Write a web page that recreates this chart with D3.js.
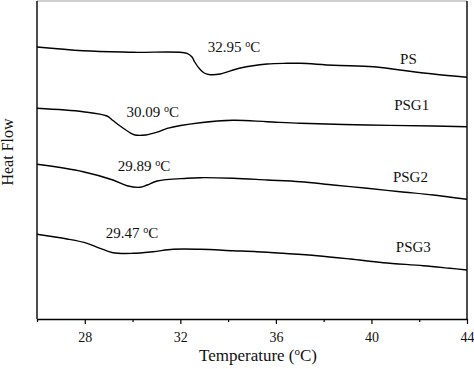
<!DOCTYPE html>
<html>
<head>
<meta charset="utf-8">
<script src="https://cdn.jsdelivr.net/npm/d3@7"></script>
<style>
  body { margin: 0; background: #fff; }
  text { font-family: "Liberation Serif", "Times New Roman", serif; fill: #111; }
</style>
</head>
<body>
<div id="container"></div>
<script>
/* CONSTANTS AND GLOBALS */
const width = 474;
const height = 369;
const margin = { top: 1, right: 7, bottom: 50, left: 37 };

/* DATA (heat flow in arbitrary units) */
const seriesNames = ["PS", "PSG1", "PSG2", "PSG3"];
const tgLabels = ["32.95", "30.09", "29.89", "29.47"];
const majorTicks = [28, 32, 36, 40, 44];
const minorTicks = [26, 30, 34, 38, 42];

const psTemp = [26, 27.93, 30.02, 32.28, 32.49, 32.6, 32.83, 33.0, 33.25, 33.67, 34.51, 35.63, 36.47, 37.02, 38.4, 40.07, 41.2, 42.59, 44];
const psFlow = [27.2, 26.83, 26.67, 26.57, 26.2, 25.7, 24.95, 24.6, 24.43, 24.5, 25.1, 25.5, 25.57, 25.57, 25.37, 25.23, 24.9, 24.5, 24.17];

const psg1Temp = [26, 27.93, 28.93, 29.18, 29.48, 29.9, 30.1, 30.55, 31.03, 31.45, 32.83, 34.21, 35.63, 37.02, 39.82, 42.59, 44];
const psg1Flow = [21.07, 20.73, 20.3, 19.85, 19.3, 18.62, 18.4, 18.4, 18.68, 19.07, 19.63, 19.87, 19.73, 19.57, 19.4, 19.3, 19.23];

const psg2Temp = [26, 27.93, 29.18, 29.77, 30.31, 30.61, 31.03, 32.28, 32.83, 34.21, 35.63, 37.02, 38.4, 39.82, 41.2, 42.59, 44];
const psg2Flow = [15.47, 14.73, 13.9, 13.33, 13.17, 13.4, 13.8, 14.07, 14.13, 14.07, 13.9, 13.73, 13.4, 13.07, 12.73, 12.4, 11.97];

const psg3Temp = [26, 27.26, 28.1, 28.64, 29.18, 30.02, 30.86, 31.7, 32.83, 34.21, 35.21, 36.3, 37.73, 39.11, 40.49, 42.17, 43.29, 44];
const psg3Flow = [8.47, 8.0, 7.57, 7.07, 6.63, 6.57, 6.73, 6.97, 6.97, 6.83, 6.73, 6.57, 6.33, 6.0, 5.63, 5.33, 5.07, 4.9];

const curves = [
  { temp: psTemp, flow: psFlow },
  { temp: psg1Temp, flow: psg1Flow },
  { temp: psg2Temp, flow: psg2Flow },
  { temp: psg3Temp, flow: psg3Flow }
];

// label anchors in data units: [temp, flow]
const namePos = [[41.2, 25.55], [40.95, 20.9], [40.9, 13.7], [41.02, 6.7]];
const tgPos = [[33.15, 26.7], [29.75, 20.2], [29.38, 14.8], [28.88, 8.1]];

/* SCALES */
const xScale = d3.scaleLinear()
  .domain([26, 44])
  .range([margin.left, width - margin.right]);

const yScale = d3.scaleLinear()
  .domain([0, 31.8])
  .range([height - margin.bottom, margin.top]);

/* HTML ELEMENTS */
const svg = d3.select("#container")
  .append("svg")
  .attr("width", width)
  .attr("height", height);

const x0 = margin.left, x1 = width - margin.right;
const y0 = margin.top, y1 = height - margin.bottom;

// frame
svg.append("line").attr("x1", x0).attr("x2", x1).attr("y1", y0).attr("y2", y0)
  .attr("stroke", "#cfcfcf").attr("stroke-width", 2);
svg.append("line").attr("x1", x1).attr("x2", x1).attr("y1", y0).attr("y2", y1)
  .attr("stroke", "#000").attr("stroke-width", 1.4);
svg.append("line").attr("x1", x0).attr("x2", x0).attr("y1", y0).attr("y2", y1)
  .attr("stroke", "#000").attr("stroke-width", 1.4);

// minor ticks
svg.append("g")
  .attr("transform", `translate(0,${y1})`)
  .call(d3.axisBottom(xScale).tickValues(minorTicks).tickSize(3).tickFormat(""))
  .call(g => g.select(".domain").remove())
  .call(g => g.selectAll("line").attr("stroke", "#000").attr("stroke-width", 1.2));

// X-Axis
svg.append("g")
  .attr("class", "x-axis")
  .attr("transform", `translate(0,${y1})`)
  .call(d3.axisBottom(xScale).tickValues(majorTicks).tickSize(5).tickSizeOuter(0).tickPadding(8))
  .call(g => g.select(".domain").attr("stroke", "#000").attr("stroke-width", 1.4))
  .call(g => g.selectAll("line").attr("stroke", "#000").attr("stroke-width", 1.2))
  .call(g => g.selectAll("text").style("font-family", "'Liberation Serif', serif")
    .style("font-size", "14px").attr("fill", "#222"));

// X-Axis label
const xl = svg.append("text")
  .attr("x", (x0 + x1) / 2 + 6)
  .attr("y", 361)
  .attr("text-anchor", "middle")
  .style("font-size", "17px");
xl.append("tspan").text("Temperature (");
xl.append("tspan").attr("dy", -6).style("font-size", "11px").text("o");
xl.append("tspan").attr("dy", 6).text("C)");

// Y-Axis label
svg.append("text")
  .attr("transform", `translate(13,152) rotate(-90)`)
  .attr("text-anchor", "middle")
  .style("font-size", "16px")
  .text("Heat Flow");

// curves
const line = d3.line()
  .x(d => xScale(d[0]))
  .y(d => yScale(d[1]))
  .curve(d3.curveCatmullRom.alpha(0.5));

svg.selectAll("path.curve")
  .data(curves)
  .join("path")
  .attr("class", "curve")
  .attr("d", c => line(c.temp.map((t, i) => [t, c.flow[i]])))
  .attr("fill", "none")
  .attr("stroke", "#000")
  .attr("stroke-width", 1.4);

// series names
svg.selectAll("text.name")
  .data(seriesNames)
  .join("text")
  .attr("class", "name")
  .attr("x", (d, i) => xScale(namePos[i][0]))
  .attr("y", (d, i) => yScale(namePos[i][1]))
  .style("font-size", "15px")
  .text(d => d);

// Tg labels
const tg = svg.selectAll("text.tg")
  .data(tgLabels)
  .join("text")
  .attr("class", "tg")
  .attr("x", (d, i) => xScale(tgPos[i][0]))
  .attr("y", (d, i) => yScale(tgPos[i][1]))
  .style("font-size", "15px");
tg.append("tspan").text(d => d + " ");
tg.append("tspan").attr("dy", -5).style("font-size", "10px").text("o");
tg.append("tspan").attr("dy", 5).text("C");
</script>
</body>
</html>
